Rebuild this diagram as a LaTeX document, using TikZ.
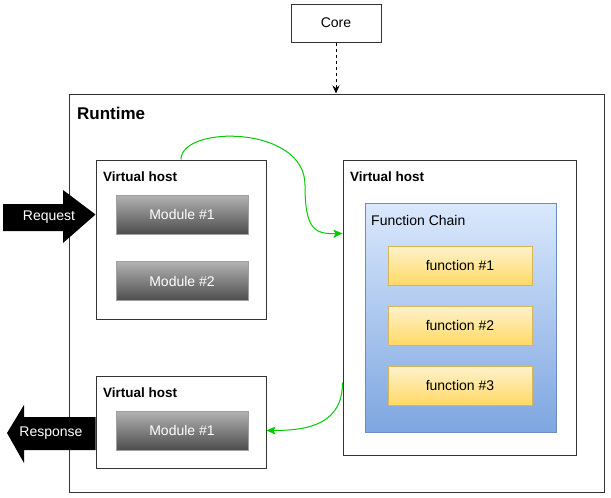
\documentclass[tikz,border=0pt]{standalone}
\usepackage{fontspec}
\setmainfont{Liberation Sans}
\usetikzlibrary{arrows.meta, positioning}

\definecolor{modtop}{HTML}{B3B3B3}
\definecolor{modbot}{HTML}{4D4D4D}
\definecolor{chaintop}{HTML}{DAE8FC}
\definecolor{chainbot}{HTML}{7EA6E0}
\definecolor{chainline}{HTML}{6C8EBF}
\definecolor{functop}{HTML}{FFF2CC}
\definecolor{funcbot}{HTML}{FFD966}
\definecolor{funcline}{HTML}{D6B656}
\definecolor{flowgreen}{HTML}{00CC00}

\begin{document}
\begin{tikzpicture}[
    x=1pt, y=-1pt,
    font=\fontsize{14}{16}\selectfont,
    box/.style={
        draw=black!80,
        line width=1pt,
        fill=white,
        inner sep=0pt
    },
    title/.style={
        anchor=north west,
        font=\fontsize{13.5}{16}\selectfont\bfseries,
        inner sep=0pt
    },
    module/.style={
        draw=gray!75,
        line width=1pt,
        top color=modtop,
        bottom color=modbot,
        text=white,
        minimum width=132pt,
        minimum height=39pt
    },
    func/.style={
        draw=funcline,
        line width=1pt,
        top color=functop,
        bottom color=funcbot,
        minimum width=144pt,
        minimum height=39pt
    },
    blockarrow/.style={fill=black},
    flow/.style={-{Stealth[length=9pt, width=8pt, inset=2pt]}, draw=flowgreen, line width=1pt},
    dep/.style={-{Stealth[length=8pt, width=7pt]}, line width=1pt, dash pattern=on 3pt off 3pt}
]
    \useasboundingbox[fill=white] (0,0) rectangle (611,498);

    % outer containers
    \node[box, minimum width=90pt, minimum height=38pt] (core) at (336,23) {Core};
    \node[box, minimum width=535pt, minimum height=398pt] (runtime) at (336.5,293) {};
    \node[title, font=\fontsize{17}{20}\selectfont\bfseries] (runtimelabel) at (77,107) {Runtime};

    % virtual hosts
    \node[box, minimum width=170pt, minimum height=159pt] (vhin) at (181,239.5) {};
    \node[title] (vhinlabel) at (103,172) {Virtual host};
    \node[box, minimum width=233pt, minimum height=295pt] (vhfn) at (459.5,307.5) {};
    \node[title] (vhfnlabel) at (350,172) {Virtual host};
    \node[box, minimum width=170pt, minimum height=92pt] (vhout) at (181,422) {};
    \node[title] (vhoutlabel) at (103,388) {Virtual host};

    % modules
    \node[module] (modA) at (182,214.5) {Module \#1};
    \node[module] (modB) at (182,281) {Module \#2};
    \node[module] (modC) at (182,430.5) {Module \#1};

    % function chain
    \node[draw=chainline, line width=1pt, top color=chaintop, bottom color=chainbot,
          minimum width=191pt, minimum height=229pt] (chain) at (460.5,317.5) {};
    \node[anchor=north west, inner sep=0pt] (chainlabel) at (371,215) {Function Chain};
    \node[func] (fnA) at (460,265.5) {function \#1};
    \node[func] (fnB) at (460,325.5) {function \#2};
    \node[func] (fnC) at (460,385.5) {function \#3};

    % request / response
    \fill[blockarrow] (3,204) -- (63,204) -- (63,190) -- (vhin.west |- modA.center)
        -- (63,243) -- (63,231) -- (3,231) -- cycle;
    \node[text=white] (request) at (49,217) {Request};
    \fill[blockarrow] (vhout.west |- 0,417) -- (24,417) -- (24,405) -- (7,433)
        -- (24,463) -- (24,450) -- (vhout.west |- 0,450) -- cycle;
    \node[text=white] (response) at (51,433) {Response};

    % connectors
    \draw[dep] (core) -- (core |- runtime.north);
    \draw[flow] (vhin.north) .. controls (181,125) and (305,125) .. (305,185)
        .. controls (305,230) and (315,234) .. ([yshift=-74pt]vhfn.north west);
    \draw[flow] ([yshift=-75pt]vhfn.west) .. controls +(0,40) and +(45,0) .. (vhout.east |- modC.center);
\end{tikzpicture}
\end{document}
